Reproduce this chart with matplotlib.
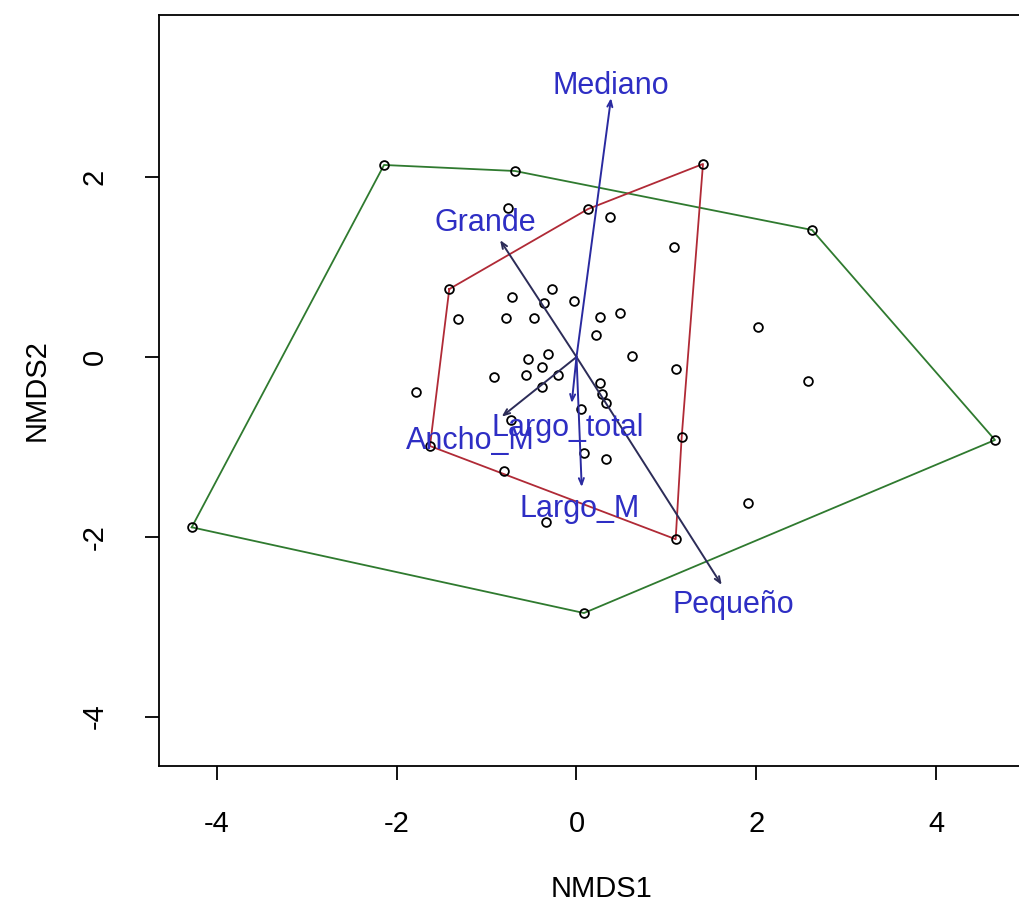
#!/usr/bin/env python3
"""NMDS ordination with convex hulls and fitted vectors (R / vegan look)."""

import numpy as np
import matplotlib

matplotlib.use("Agg")
import matplotlib.pyplot as plt

plt.rcParams["font.family"] = ["Liberation Sans", "DejaVu Sans"]
plt.rcParams["axes.unicode_minus"] = False

# site scores
nmds1 = [-2.141, -0.684, 2.620, 4.655, 0.083, -4.280, 1.407, -0.765, 0.128, 0.369,
         1.081, -1.415, -0.273, -0.720, -0.364, -0.033, 0.484, 0.264, -1.321, -0.785,
         -0.474, 0.216, 2.019, -0.541, -0.320, 0.616, -0.384, 1.103, -0.915, -0.565,
         -0.209, 2.575, -0.384, -1.785, 0.261, 0.284, 0.333, 0.055, -0.729, 1.170,
         -1.630, 0.083, 0.328, -0.803, -0.343, 1.103, 1.911]
nmds2 = [2.136, 2.069, 1.413, -0.923, -2.848, -1.894, 2.147, 1.652, 1.646, 1.561,
         1.220, 0.756, 0.756, 0.667, 0.597, 0.625, 0.486, 0.445, 0.428, 0.430,
         0.430, 0.245, 0.334, -0.022, 0.028, 0.006, -0.108, -0.137, -0.217, -0.195,
         -0.195, -0.267, -0.339, -0.384, -0.289, -0.412, -0.508, -0.581, -0.697, -0.890,
         -0.990, -1.065, -1.132, -1.268, -1.832, -2.027, -1.627]

# hull vertices (indices into the site scores)
hull_green = [5, 0, 1, 2, 3, 4]
hull_red = [11, 8, 6, 39, 45, 40]

# fitted vectors
vec_names = ["Mediano", "Grande", "Pequeño", "Ancho_M", "Largo_total", "Largo_M"]
vec_x = [0.384, -0.850, 1.615, -0.832, -0.053, 0.058]
vec_y = [2.880, 1.300, -2.536, -0.664, -0.512, -1.446]
lab_x = [0.384, -1.012, 1.741, -1.185, -0.095, 0.039]
lab_y = [3.010, 1.490, -2.759, -0.934, -0.790, -1.691]
vec_group = [0, 1, 1, 1, 0, 0]

W, H, DPI = 1020, 915, 100
fig = plt.figure(figsize=(W / DPI, H / DPI), dpi=DPI)
left, right, top, bottom = 159, 1045, 15, 766
ax = fig.add_axes([left / W, 1 - bottom / H, (right - left) / W, (bottom - top) / H])

x = np.array(nmds1)
y = np.array(nmds2)

for idx, col in [(hull_green, "#2f7a2f"), (hull_red, "#b02a36")]:
    idx = idx + idx[:1]
    ax.plot(x[idx], y[idx], color=col, lw=1.3, zorder=2)

ax.plot(x, y, "o", ms=6.3, mfc="none", mec="black", mew=1.3, zorder=3)

arrow_cols = ["#2a2aa0", "#2c2c58"]
for vx, vy, g in zip(vec_x, vec_y, vec_group):
    ax.annotate("", xy=(vx, vy), xytext=(0, 0),
                arrowprops=dict(arrowstyle="->,head_length=0.45,head_width=0.18",
                                color=arrow_cols[g], lw=1.4, shrinkA=0, shrinkB=0),
                zorder=4)
for name, lx, ly in zip(vec_names, lab_x, lab_y):
    ax.text(lx, ly, name, color="#2e2ec4", fontsize=22, ha="center", va="center",
            zorder=5)

ax.set_xlim((left - 576.5) / 89.9, (right - 576.5) / 89.9)
ax.set_ylim((357 - bottom) / 89.9, (357 - top) / 89.9)
ax.set_xticks([-4, -2, 0, 2, 4])
ax.set_yticks([-4, -2, 0, 2])
ax.spines["right"].set_visible(False)
for s in ax.spines.values():
    s.set_linewidth(1.3)
ax.tick_params(direction="out", length=10, width=1.3, labelsize=21)
ax.tick_params(axis="x", pad=22)
ax.tick_params(axis="y", pad=26)
for lab in ax.get_yticklabels():
    lab.set_rotation(90)
    lab.set_va("center")
ax.set_xlabel("NMDS1", fontsize=21, labelpad=26)
ax.set_ylabel("NMDS2", fontsize=21, labelpad=22)

fig.savefig("out.png", dpi=DPI)
